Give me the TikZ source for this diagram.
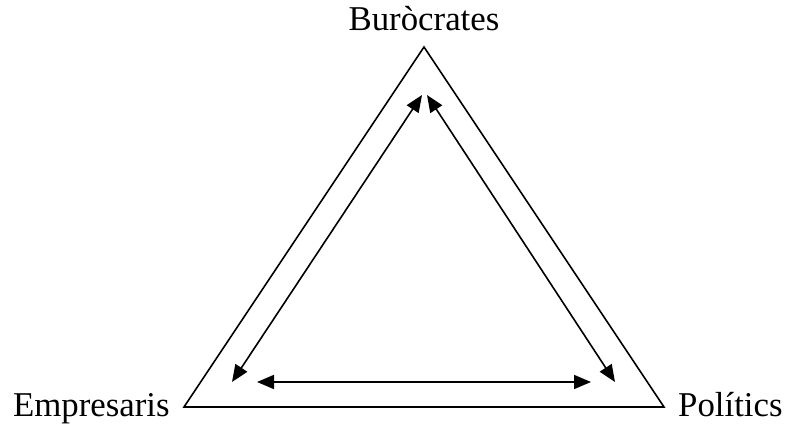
\documentclass[tikz,border=0pt]{standalone}
\usepackage{fontspec}
\setmainfont{Liberation Serif}
\usetikzlibrary{arrows.meta, positioning}

\begin{document}
\begin{tikzpicture}[
    x=0.5pt, y=-0.5pt,
    edge/.style={line width=0.8pt},
    link/.style={line width=0.8pt, arrows={Triangle[length=8.5pt, width=7pt]-Triangle[length=8.5pt, width=7pt]}},
    actor/.style={inner sep=0pt, font=\fontsize{17.4}{20}\selectfont}
]
\useasboundingbox (0,0) rectangle (786,426);

% Corners
\coordinate (top) at (424,47);
\coordinate (left) at (184,407);
\coordinate (right) at (664,407);

% Labels
\node (buro) [actor, anchor=base] at (424,31) {Buròcrates};
\node (empr) [actor, anchor=base east] at (170,417) {Empresaris};
\node (poli) [actor, anchor=base east] at (783,417) {Polítics};

% Triangle
\draw[edge] (top) -- (left) -- (right) -- cycle;

% Relations
\coordinate (tl) at (422,95);
\coordinate (tr) at (427,95);
\coordinate (bl) at (232,382);
\coordinate (br) at (615,382);
\coordinate (hl) at (257,382);
\coordinate (hr) at (591,382);
\draw[link] (tl) -- (bl);
\draw[link] (tr) -- (br);
\draw[link] (hl) -- (hr);

\end{tikzpicture}
\end{document}
